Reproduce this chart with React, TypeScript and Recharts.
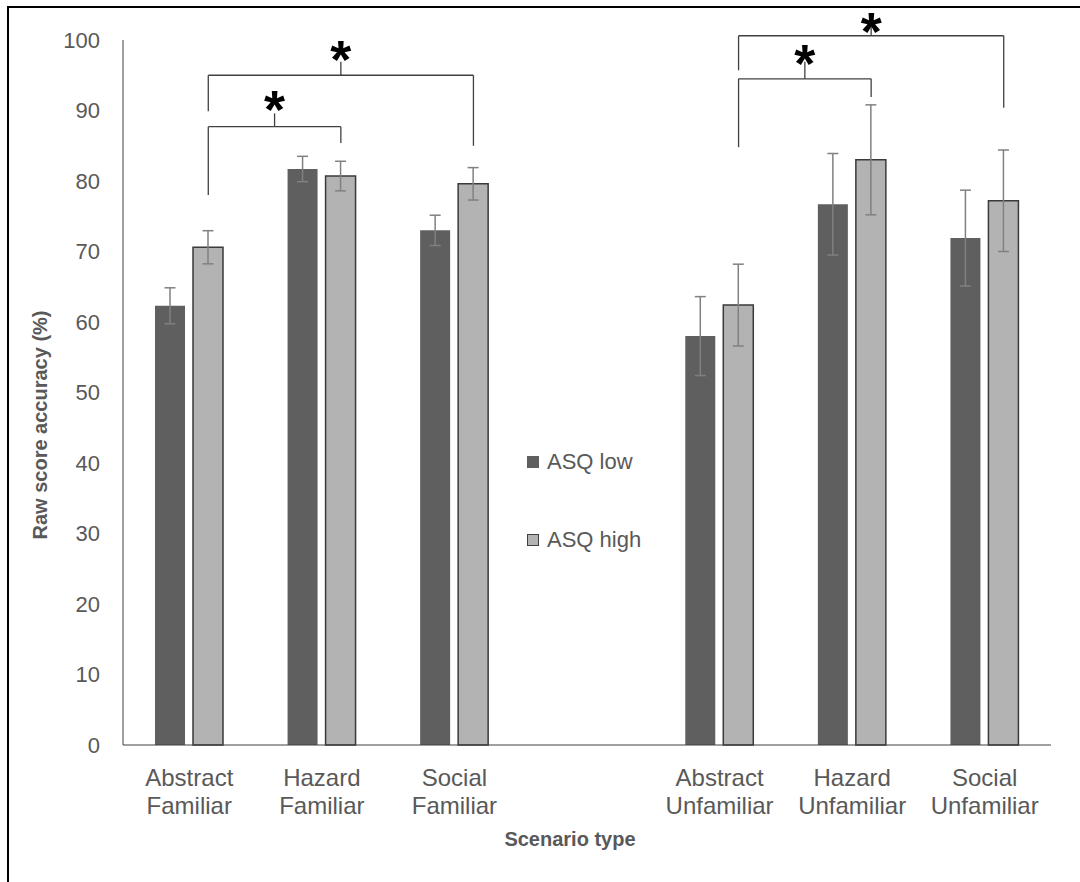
import React from 'react';
import { BarChart, Bar, XAxis, YAxis, ErrorBar, ReferenceLine, ReferenceDot, Legend } from 'recharts';

const categories = [
  'Abstract Familiar',
  'Hazard Familiar',
  'Social Familiar',
  '',
  'Abstract Unfamiliar',
  'Hazard Unfamiliar',
  'Social Unfamiliar',
];
const asqLow = [62.3, 81.7, 73.0, null, 58.0, 76.7, 71.9];
const asqLowErr = [2.55, 1.8, 2.15, null, 5.6, 7.2, 6.8];
const asqHigh = [70.6, 80.7, 79.6, null, 62.4, 83.0, 77.2];
const asqHighErr = [2.35, 2.1, 2.3, null, 5.8, 7.8, 7.2];
const yTicks = [0, 10, 20, 30, 40, 50, 60, 70, 80, 90, 100];
const seriesNames = ['ASQ low', 'ASQ high'];

// significance brackets between ASQ-high bars (category index, data y values)
const bracketFrom = [0, 0, 4, 4];
const bracketTo = [1, 2, 5, 6];
const bracketBarY = [87.7, 95.0, 94.5, 100.6];
const bracketLeftEnd = [78.0, 89.9, 84.8, 95.7];
const bracketRightEnd = [85.4, 85.0, 91.9, 90.4];
const bracketStemTop = [89.6, 96.9, 96.9, 102.0];
const bracketStarY = [91.8, 98.9, 98.3, 102.9];

const data = categories.map((name, i) => ({
  name,
  idx: i,
  low: asqLow[i],
  lowErr: asqLowErr[i],
  high: asqHigh[i],
  highErr: asqHighErr[i],
}));

const W = 1080;
const H = 882;
const MARGIN = { top: 40, right: 29, left: 8, bottom: 12 };
const Y_AXIS_W = 115;
const X_AXIS_H = 125;
const BAR_SIZE = 30;
const BAR_GAP = 8;
const plotW = W - MARGIN.left - MARGIN.right - Y_AXIS_W;
const bandW = plotW / categories.length;
const HIGH_OFFSET = (BAR_GAP / 2 + BAR_SIZE / 2) / bandW;

const FONT = '"Liberation Sans", Arial, sans-serif';
const TEXT = '#595959';

const XTick = (props: any) => {
  const { x, y, payload } = props;
  const lines = String(payload.value).split(' ').filter((s) => s.length);
  return (
    <text textAnchor="middle" fill={TEXT} fontSize={24} fontFamily={FONT}>
      {lines.map((l, i) => (
        <tspan key={i} x={x} y={y + 39 + i * 28}>
          {l}
        </tspan>
      ))}
    </text>
  );
};

const StarShape = (props: any) => {
  const { cx, cy } = props;
  const fs = 54;
  return (
    <text x={cx} y={cy + fs * 0.56} textAnchor="middle" fontSize={fs} fontWeight="bold" fontFamily={FONT} fill="#000">
      *
    </text>
  );
};

const LegendContent = () => (
  <div style={{ fontFamily: FONT, fontSize: 22, color: TEXT }}>
    {seriesNames.map((n, i) => (
      <div key={n} style={{ display: 'flex', alignItems: 'center', height: 26, marginBottom: i === 0 ? 52 : 0 }}>
        <span
          style={{
            display: 'inline-block',
            width: 12,
            height: 12,
            background: i === 0 ? '#5f5f5f' : '#b3b3b3',
            border: i === 0 ? 'none' : '1px solid #404040',
            boxSizing: 'border-box',
            marginRight: 8,
          }}
        />
        <span>{n}</span>
      </div>
    ))}
  </div>
);

export default function App() {
  const brackets = bracketFrom.map((f, i) => {
    const x1 = f + HIGH_OFFSET;
    const x2 = bracketTo[i] + HIGH_OFFSET;
    const xm = (x1 + x2) / 2;
    return { x1, x2, xm, i };
  });
  return (
    <div style={{ position: 'absolute', left: 0, top: 0, width: W, height: H, background: '#fff' }}>
      <div
        style={{
          position: 'absolute',
          left: 7,
          top: 6,
          width: W - 7,
          height: H - 6,
          borderTop: '2px solid #000',
          borderLeft: '2px solid #000',
          boxSizing: 'border-box',
        }}
      />
      <BarChart
        width={W}
        height={H}
        data={data}
        margin={MARGIN}
        barSize={BAR_SIZE}
        barGap={BAR_GAP}
        style={{ position: 'absolute', left: 0, top: 0 }}
      >
        <XAxis
          dataKey="name"
          height={X_AXIS_H}
          tick={<XTick />}
          tickLine={false}
          tickSize={0}
          interval={0}
          axisLine={{ stroke: '#404040', strokeWidth: 1 }}
          label={{
            content: () => (
              <text x={570} y={846} textAnchor="middle" fill={TEXT} fontSize={20} fontWeight="bold" fontFamily={FONT}>
                Scenario type
              </text>
            ),
          }}
        />
        <XAxis
          xAxisId="ann"
          dataKey="idx"
          type="number"
          domain={[-0.5, categories.length - 0.5]}
          hide
          allowDataOverflow
        />
        <YAxis
          width={Y_AXIS_W}
          domain={[0, 100]}
          ticks={yTicks}
          interval={0}
          tickLine={false}
          tickSize={0}
          tickMargin={23}
          axisLine={{ stroke: '#404040', strokeWidth: 1 }}
          tick={{ fill: TEXT, fontSize: 22, fontFamily: FONT }}
          label={{
            content: () => (
              <text
                x={47}
                y={425}
                transform="rotate(-90 47 425)"
                textAnchor="middle"
                fill={TEXT}
                fontSize={20}
                fontWeight="bold"
                fontFamily={FONT}
              >
                Raw score accuracy (%)
              </text>
            ),
          }}
        />
        <Legend
          layout="vertical"
          align="center"
          verticalAlign="middle"
          content={<LegendContent />}
          wrapperStyle={{ position: 'absolute', left: 527, top: 449, width: 160, height: 110 }}
        />
        <Bar dataKey="low" name={seriesNames[0]} fill="#5f5f5f" isAnimationActive={false}>
          <ErrorBar dataKey="lowErr" width={5.5} stroke="#808080" strokeWidth={1.5} />
        </Bar>
        <Bar dataKey="high" name={seriesNames[1]} fill="#b3b3b3" stroke="#3a3a3a" strokeWidth={1.5} isAnimationActive={false}>
          <ErrorBar dataKey="highErr" width={5.5} stroke="#808080" strokeWidth={1.5} />
        </Bar>
        {brackets.map(({ x1, x2, xm, i }) => [
          <ReferenceLine
            key={`h${i}`}
            xAxisId="ann"
            ifOverflow="visible"
            stroke="#404040"
            strokeWidth={1.3}
            segment={[
              { x: x1, y: bracketBarY[i] },
              { x: x2, y: bracketBarY[i] },
            ]}
          />,
          <ReferenceLine
            key={`l${i}`}
            xAxisId="ann"
            ifOverflow="visible"
            stroke="#404040"
            strokeWidth={1.3}
            segment={[
              { x: x1, y: bracketBarY[i] },
              { x: x1, y: bracketLeftEnd[i] },
            ]}
          />,
          <ReferenceLine
            key={`r${i}`}
            xAxisId="ann"
            ifOverflow="visible"
            stroke="#404040"
            strokeWidth={1.3}
            segment={[
              { x: x2, y: bracketBarY[i] },
              { x: x2, y: bracketRightEnd[i] },
            ]}
          />,
          <ReferenceLine
            key={`s${i}`}
            xAxisId="ann"
            ifOverflow="visible"
            stroke="#404040"
            strokeWidth={1.3}
            segment={[
              { x: xm, y: bracketBarY[i] },
              { x: xm, y: bracketStemTop[i] },
            ]}
          />,
          <ReferenceDot
            key={`d${i}`}
            xAxisId="ann"
            x={xm}
            y={bracketStarY[i]}
            r={0}
            ifOverflow="visible"
            shape={<StarShape />}
          />,
        ])}
      </BarChart>
    </div>
  );
}
